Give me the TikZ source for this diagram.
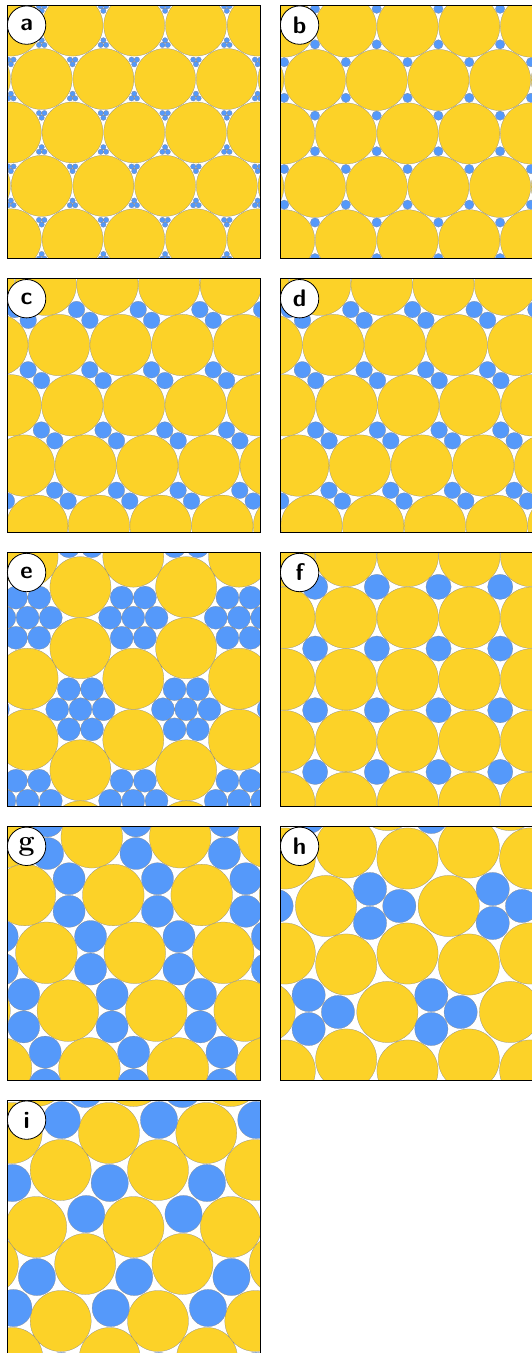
\documentclass[tikz,border=0pt]{standalone}
\usepackage{fontspec}
\definecolor{yel}{RGB}{252,210,40}
\definecolor{blu}{RGB}{85,153,250}
\tikzset{
  ycirc/.style={fill=yel, draw=black!45, line width=0.25pt},
  bcirc/.style={fill=blu, draw=black!45, line width=0.25pt},
  pframe/.style={draw=black, line width=0.9pt},
  lab/.style={circle, fill=white, draw=black, line width=0.8pt, minimum size=38.4pt, inner sep=0pt,
    font=\fontsize{24}{24}\selectfont\sffamily\bfseries},
}
\begin{document}
\begin{tikzpicture}[x=1pt,y=-1pt]
\useasboundingbox (0,0) rectangle (532,1353);
\clip (0,0) rectangle (532,1353);
% ---------------- panel a
\begin{scope}
\clip (7.3,5.3) rectangle ++(253.5,253.5);
\foreach \i in {-4,...,5}{\foreach \j in {-2,...,4}{
  \pgfmathsetmacro\qx{41.7+61.7*\i+30.85*\j}
  \pgfmathsetmacro\qy{79+53.43*\j}
  \path[ycirc] (\qx,\qy) circle (30.5pt);
}}
\foreach \i in {-4,...,5}{\foreach \j in {-2,...,4}{
  \pgfmathsetmacro\hx{41.7+61.7*\i+30.85*\j+30.85}
  \pgfmathsetmacro\hy{79+53.43*\j+17.81}
  \pgfmathsetmacro\kx{41.7+61.7*\i+30.85*\j+61.7}
  \pgfmathsetmacro\ky{79+53.43*\j+35.62}
  \path[bcirc] (\hx,\hy-3.1) circle (2.7pt) (\hx-2.7,\hy+1.55) circle (2.7pt) (\hx+2.7,\hy+1.55) circle (2.7pt);
  \path[bcirc] (\kx,\ky+3.1) circle (2.7pt) (\kx-2.7,\ky-1.55) circle (2.7pt) (\kx+2.7,\ky-1.55) circle (2.7pt);
}}
\end{scope}
% ---------------- panel b
\begin{scope}
\clip (280.3,5.3) rectangle ++(253.5,253.5);
\foreach \i in {-4,...,5}{\foreach \j in {-2,...,4}{
  \pgfmathsetmacro\qx{315+61.7*\i+30.85*\j}
  \pgfmathsetmacro\qy{80+53.43*\j}
  \path[ycirc] (\qx,\qy) circle (30.6pt);
}}
\foreach \i in {-4,...,5}{\foreach \j in {-2,...,4}{
  \pgfmathsetmacro\hx{315+61.7*\i+30.85*\j+30.85}
  \pgfmathsetmacro\hy{80+53.43*\j+17.81}
  \pgfmathsetmacro\kx{315+61.7*\i+30.85*\j+61.7}
  \pgfmathsetmacro\ky{80+53.43*\j+35.62}
  \path[bcirc] (\hx,\hy) circle (4.7pt) (\kx,\ky) circle (4.7pt);
}}
\end{scope}
% ---------------- panel c
\begin{scope}
\clip (7.3,278.9) rectangle ++(253.5,253.5);
\foreach \i in {-3,...,5}{\foreach \j in {-1,...,5}{
  \pgfmathsetmacro\qx{45.7+61.7*\i+13.3*\j}
  \pgfmathsetmacro\qy{284.8+60.25*\j}
  \path[ycirc] (\qx,\qy) circle (30.7pt);
}}
\foreach \i in {-3,...,5}{\foreach \j in {-1,...,5}{
  \pgfmathsetmacro\hx{45.7+61.7*\i+13.3*\j+37.5}
  \pgfmathsetmacro\hy{284.8+60.25*\j+30.125}
  \path[bcirc] (\hx-6.7,\hy-5.4) circle (8.3pt) (\hx+6.7,\hy+5.4) circle (8.3pt);
}}
\end{scope}
% ---------------- panel d
\begin{scope}
\clip (280.3,278.9) rectangle ++(253.5,253.5);
\foreach \i in {-3,...,5}{\foreach \j in {-1,...,5}{
  \pgfmathsetmacro\qx{320+61.7*\i+13.3*\j}
  \pgfmathsetmacro\qy{284.8+60.25*\j}
  \path[ycirc] (\qx,\qy) circle (30.7pt);
}}
\foreach \i in {-3,...,5}{\foreach \j in {-1,...,5}{
  \pgfmathsetmacro\hx{320+61.7*\i+13.3*\j+37.5}
  \pgfmathsetmacro\hy{284.8+60.25*\j+30.125}
  \path[bcirc] (\hx-6.7,\hy-5.4) circle (8.3pt) (\hx+6.7,\hy+5.4) circle (8.3pt);
}}
\end{scope}
% ---------------- panel e
\begin{scope}
\clip (7.3,552.7) rectangle ++(253.5,253.5);
\foreach \i in {-4,...,3}{\foreach \j in {-2,...,3}{
  \pgfmathsetmacro\qx{133.3+105.7*\i+52.85*\j}
  \pgfmathsetmacro\qy{617.7+91.55*\j}
  \path[ycirc] (\qx,\qy+61.03) circle (30.5pt) (\qx+52.85,\qy+30.5) circle (30.5pt);
  \path[bcirc] (\qx,\qy) circle (11.5pt)
    (\qx+23.2,\qy) circle (11.5pt) (\qx-23.2,\qy) circle (11.5pt)
    (\qx+11.6,\qy+20.09) circle (11.5pt) (\qx-11.6,\qy+20.09) circle (11.5pt)
    (\qx+11.6,\qy-20.09) circle (11.5pt) (\qx-11.6,\qy-20.09) circle (11.5pt);
}}
\end{scope}
% ---------------- panel f
\begin{scope}
\clip (280.3,552.7) rectangle ++(253.5,253.5);
\foreach \i in {0,...,4}{\foreach \j in {0,...,4}{
  \path[ycirc] (284.3+61.7*\i,556+61.7*\j) circle (30.7pt);
}}
\foreach \i in {-1,...,4}{\foreach \j in {-1,...,4}{
  \path[bcirc] (315.15+61.7*\i,586.85+61.7*\j) circle (12.6pt);
}}
\end{scope}
% ---------------- panel g
\begin{scope}
\clip (7.3,826.5) rectangle ++(253.5,253.5);
\foreach \i in {-3,...,2}{\foreach \j in {-1,...,3}{
  \pgfmathsetmacro\qx{113.3+88.4*\i+21.5*\j}
  \pgfmathsetmacro\qy{895+57.8*\j}
  \path[ycirc] (\qx,\qy) circle (30.8pt);
  \path[bcirc] (\qx+44.2,\qy-16.3) circle (16pt) (\qx+44.2,\qy+16.3) circle (16pt);
}}
\end{scope}
% ---------------- panel h
\begin{scope}
\clip (280.3,826.5) rectangle ++(253.5,253.5);
\foreach \i in {-3,...,3}{\foreach \j in {-2,...,2}{
  \pgfmathsetmacro\qx{370+122.7*\i+61.35*\j}
  \pgfmathsetmacro\qy{906+106*\j}
  \path[ycirc] (\qx-44,\qy) circle (30.6pt) (\qx+37.5,\qy+47.5) circle (30.6pt) (\qx-23.85,\qy+58.5) circle (30.6pt);
  \path[bcirc] (\qx,\qy-17) circle (16.6pt) (\qx,\qy+17) circle (16.6pt) (\qx+29.3,\qy) circle (16.6pt);
}}
\end{scope}
% ---------------- panel i
\begin{scope}
\clip (7.3,1100.3) rectangle ++(253.5,253.5);
\foreach \i in {-3,...,3}{\foreach \j in {-1,...,2}{
  \pgfmathsetmacro\qx{97.3*\i+24.5*\j}
  \pgfmathsetmacro\qy{94*\j}
  \path[ycirc] (109+\qx,1133+\qy) circle (30.5pt) (60.7+\qx,1170+\qy) circle (30.5pt);
  \path[bcirc] (61.7+\qx,1120+\qy) circle (18.6pt) (109.7+\qx,1183+\qy) circle (18.6pt);
}}
\end{scope}
% ---------------- frames and labels
\draw[pframe] (7.3,5.3) rectangle ++(253.5,253.5);
\draw[pframe] (280.3,5.3) rectangle ++(253.5,253.5);
\draw[pframe] (7.3,278.9) rectangle ++(253.5,253.5);
\draw[pframe] (280.3,278.9) rectangle ++(253.5,253.5);
\draw[pframe] (7.3,552.7) rectangle ++(253.5,253.5);
\draw[pframe] (280.3,552.7) rectangle ++(253.5,253.5);
\draw[pframe] (7.3,826.5) rectangle ++(253.5,253.5);
\draw[pframe] (280.3,826.5) rectangle ++(253.5,253.5);
\draw[pframe] (7.3,1100.3) rectangle ++(253.5,253.5);
\node[lab] (la) at (26.6,25.1) {a};
\node[lab] (lb) at (299.6,25.1) {b};
\node[lab] (lc) at (26.6,298.7) {c};
\node[lab] (ld) at (299.6,298.7) {d};
\node[lab] (le) at (26.6,572.5) {e};
\node[lab] (lf) at (299.6,572.5) {f};
\node[lab, font=\fontsize{29}{29}\selectfont\rmfamily\bfseries] (lg) at (26.6,846.3) {g};
\node[lab] (lh) at (299.6,846.3) {h};
\node[lab] (li) at (26.6,1120.1) {i};
\end{tikzpicture}
\end{document}
